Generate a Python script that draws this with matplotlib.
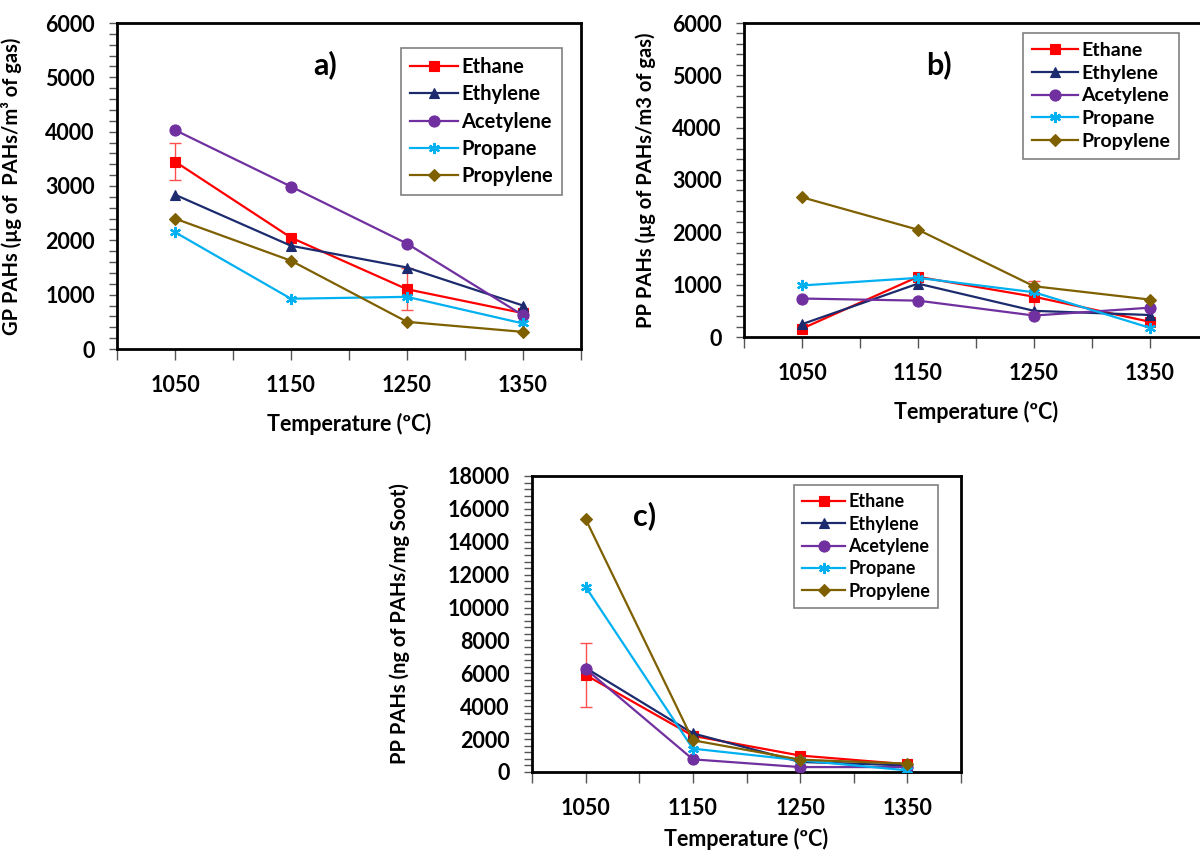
#!/usr/bin/env python3
# coding: utf-8

import matplotlib
matplotlib.use('Agg')
import matplotlib.pyplot as plt
import matplotlib.transforms as mtransforms
import numpy as np
from matplotlib.ticker import MultipleLocator, FixedLocator

plt.rcParams['font.family'] = ['Lato', 'DejaVu Sans']
plt.rcParams['font.weight'] = 'bold'
plt.rcParams['axes.labelweight'] = 'bold'

temps = ['1050', '1150', '1250', '1350']
gases = ['Ethane', 'Ethylene', 'Acetylene', 'Propane', 'Propylene']

# a) gas-phase PAHs (ug / m3 of gas)
gp_ethane = [3450, 2050, 1100, 660]
gp_ethylene = [2840, 1900, 1500, 800]
gp_acetylene = [4030, 2990, 1940, 620]
gp_propane = [2150, 925, 960, 470]
gp_propylene = [2400, 1625, 500, 315]
gp_ethane_err = [340, 0, 390, 0]

# b) particle-phase PAHs (ug / m3 of gas)
pp_ethane = [160, 1150, 770, 290]
pp_ethylene = [245, 1020, 500, 420]
pp_acetylene = [735, 695, 410, 560]
pp_propane = [985, 1130, 855, 175]
pp_propylene = [2670, 2050, 970, 715]
pp_ethane_err = [0, 0, 300, 0]

# c) particle-phase PAHs (ng / mg soot)
soot_ethane = [5900, 2200, 1000, 470]
soot_ethylene = [6330, 2350, 610, 400]
soot_acetylene = [6270, 770, 300, 300]
soot_propane = [11260, 1420, 710, 100]
soot_propylene = [15380, 1930, 750, 510]
soot_ethane_err = [1950, 0, 0, 0]

colors = ['#ff0000', '#1c2b6e', '#7030a0', '#00b0f0', '#7f6000']
markers = ['s', '^', 'o', (6, 2, 0), 'D']
msizes = [7.5, 7.5, 8, 8, 6]


def draw_panel(fig, rect, series, err, ymax, ystep, yminor, ylabel, tag,
               tag_xy, leg_xy, leg_fs, leg_sp, ylabel_x, xlabel_pad):
    ax = fig.add_axes(rect)
    x = np.arange(1, len(temps) + 1)

    err = np.array(err, dtype=float)
    m = err > 0
    ax.errorbar(x[m], np.array(series[0])[m], yerr=err[m], fmt='none',
                ecolor='#ff5050', elinewidth=1, capsize=4, capthick=1, zorder=2)

    for vals, name, c, mk, ms in zip(series, gases, colors, markers, msizes):
        ax.plot(x, vals, color=c, marker=mk, markersize=ms, lw=1.6,
                markeredgewidth=1.6 if mk == (6, 2, 0) else 0.8,
                markeredgecolor=c, label=name, zorder=3)

    ax.set_xlim(0.5, len(temps) + 0.5)
    ax.set_ylim(0, ymax)
    ax.xaxis.set_major_locator(FixedLocator(x))
    ax.xaxis.set_minor_locator(FixedLocator(np.arange(0.5, len(temps) + 1, 1.0)))
    ax.set_xticklabels(temps)
    ax.yaxis.set_major_locator(MultipleLocator(ystep))
    ax.yaxis.set_minor_locator(MultipleLocator(yminor))

    ax.tick_params(axis='x', which='both', direction='out', length=8,
                   width=1, pad=11, labelsize=15.5, color='#555555')
    ax.tick_params(axis='y', which='both', direction='out', length=6,
                   width=1, pad=10, labelsize=15.5, color='#555555')
    for s in ax.spines.values():
        s.set_linewidth(2)

    ax.set_xlabel('Temperature (ºC)', fontsize=15.5, labelpad=xlabel_pad)
    ax.set_ylabel(ylabel, fontsize=14.5)
    trans = mtransforms.blended_transform_factory(fig.transFigure, ax.transAxes)
    ax.yaxis.set_label_coords(ylabel_x, 0.5, transform=trans)

    fig.text(tag_xy[0], tag_xy[1], tag, fontsize=22, ha='center', va='center')

    leg = ax.legend(loc='upper left', bbox_to_anchor=leg_xy,
                    bbox_transform=fig.transFigure, fontsize=leg_fs,
                    labelspacing=leg_sp, handlelength=2.4, handletextpad=0.15,
                    borderpad=0.45, borderaxespad=0, fancybox=False,
                    edgecolor='#808080', framealpha=1)
    leg.get_frame().set_linewidth(1.2)
    return ax


def main():
    W, H = 1200, 850
    fig = plt.figure(figsize=(12, 8.5), dpi=100)

    def r(x0, y0, x1, y1):
        return [x0 / W, 1 - y1 / H, (x1 - x0) / W, (y1 - y0) / H]

    draw_panel(fig, r(117, 23, 581, 349),
               [gp_ethane, gp_ethylene, gp_acetylene, gp_propane, gp_propylene],
               gp_ethane_err, 6000, 1000, 200,
               'GP PAHs (µg of  PAHs/m³ of gas)', 'a)',
               (325 / W, 1 - 65 / H), (401 / W, 1 - 48 / H), 14.5, 0.36,
               22 / W, 12)

    draw_panel(fig, r(744, 23, 1208, 337),
               [pp_ethane, pp_ethylene, pp_acetylene, pp_propane, pp_propylene],
               pp_ethane_err, 6000, 1000, 200,
               'PP PAHs (µg of PAHs/m3 of gas)', 'b)',
               (939 / W, 1 - 65 / H), (1023 / W, 1 - 33 / H), 14, 0.3,
               656 / W, 12)

    draw_panel(fig, r(532, 476, 961, 772),
               [soot_ethane, soot_ethylene, soot_acetylene, soot_propane,
                soot_propylene],
               soot_ethane_err, 18000, 2000, 400,
               'PP PAHs (ng of PAHs/mg Soot)', 'c)',
               (645 / W, 1 - 516 / H), (794 / W, 1 - 485 / H), 13, 0.3,
               410 / W, 6)

    fig.savefig('out.png', dpi=100)


if __name__ == '__main__':
    main()
